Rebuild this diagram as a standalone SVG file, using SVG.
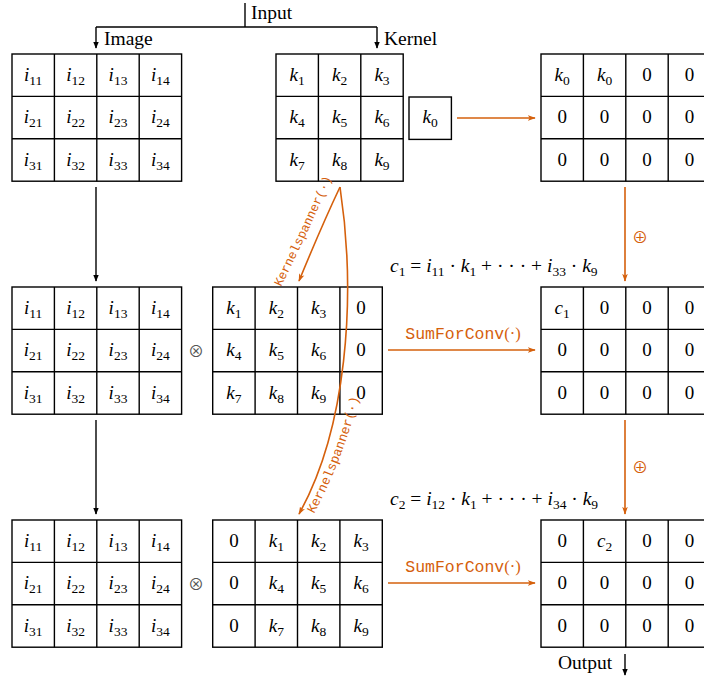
<svg xmlns="http://www.w3.org/2000/svg" width="704" height="677" viewBox="0 0 704 677">
<style>
.g{fill:#fff;stroke:#000;stroke-width:1.4}
.ln{stroke:#000;stroke-width:1.4;fill:none}
.t{font-family:"Liberation Serif","DejaVu Serif",serif;font-size:19px;text-anchor:middle;fill:#000}
.l{font-family:"Liberation Serif","DejaVu Serif",serif;font-size:19.5px;fill:#000}
.v{font-style:italic}
.s{font-size:13.5px;font-style:normal}
.bk{stroke:#000;stroke-width:1.4;fill:none}
.or{stroke:#d5600c;stroke-width:1.6;fill:none}
.ot{font-family:"Liberation Mono","DejaVu Sans Mono",monospace;fill:#d5600c}
.op{font-family:"Noto Sans CJK JP","DejaVu Sans",sans-serif;fill:#d5600c;font-size:16px;text-anchor:middle}
</style>
<defs>
<marker id="ab" viewBox="0 0 10 10" refX="9" refY="5" markerWidth="7" markerHeight="7" markerUnits="userSpaceOnUse" orient="auto"><path d="M0,1 L10,5 L0,9 Z" fill="#000"/></marker>
<marker id="ao" viewBox="0 0 10 10" refX="9" refY="5" markerWidth="8" markerHeight="8" markerUnits="userSpaceOnUse" orient="auto"><path d="M0,1.5 L10,5 L0,8.5 L2.5,5 Z" fill="#d5600c"/></marker>
<path id="kp1" d="M281,287 Q306,236 332,178"/>
<path id="kp2" d="M314,514 Q342,462 360,394"/>
</defs>

<g id="image1">
<rect class="g" x="12" y="54" width="169.6" height="127.2"/>
<path class="ln" d="M54.4,54V181.2M96.8,54V181.2M139.2,54V181.2M12,96.4H181.6M12,138.8H181.6"/>
<g class="t">
<text x="33.2" y="81"><tspan class="v">i</tspan><tspan class="s" dy="4">11</tspan></text>
<text x="75.6" y="81"><tspan class="v">i</tspan><tspan class="s" dy="4">12</tspan></text>
<text x="118" y="81"><tspan class="v">i</tspan><tspan class="s" dy="4">13</tspan></text>
<text x="160.4" y="81"><tspan class="v">i</tspan><tspan class="s" dy="4">14</tspan></text>
<text x="33.2" y="123.4"><tspan class="v">i</tspan><tspan class="s" dy="4">21</tspan></text>
<text x="75.6" y="123.4"><tspan class="v">i</tspan><tspan class="s" dy="4">22</tspan></text>
<text x="118" y="123.4"><tspan class="v">i</tspan><tspan class="s" dy="4">23</tspan></text>
<text x="160.4" y="123.4"><tspan class="v">i</tspan><tspan class="s" dy="4">24</tspan></text>
<text x="33.2" y="165.8"><tspan class="v">i</tspan><tspan class="s" dy="4">31</tspan></text>
<text x="75.6" y="165.8"><tspan class="v">i</tspan><tspan class="s" dy="4">32</tspan></text>
<text x="118" y="165.8"><tspan class="v">i</tspan><tspan class="s" dy="4">33</tspan></text>
<text x="160.4" y="165.8"><tspan class="v">i</tspan><tspan class="s" dy="4">34</tspan></text>
</g>
</g>

<g id="image2">
<rect class="g" x="12" y="287" width="169.6" height="127.2"/>
<path class="ln" d="M54.4,287V414.2M96.8,287V414.2M139.2,287V414.2M12,329.4H181.6M12,371.8H181.6"/>
<g class="t">
<text x="33.2" y="314"><tspan class="v">i</tspan><tspan class="s" dy="4">11</tspan></text>
<text x="75.6" y="314"><tspan class="v">i</tspan><tspan class="s" dy="4">12</tspan></text>
<text x="118" y="314"><tspan class="v">i</tspan><tspan class="s" dy="4">13</tspan></text>
<text x="160.4" y="314"><tspan class="v">i</tspan><tspan class="s" dy="4">14</tspan></text>
<text x="33.2" y="356.4"><tspan class="v">i</tspan><tspan class="s" dy="4">21</tspan></text>
<text x="75.6" y="356.4"><tspan class="v">i</tspan><tspan class="s" dy="4">22</tspan></text>
<text x="118" y="356.4"><tspan class="v">i</tspan><tspan class="s" dy="4">23</tspan></text>
<text x="160.4" y="356.4"><tspan class="v">i</tspan><tspan class="s" dy="4">24</tspan></text>
<text x="33.2" y="398.8"><tspan class="v">i</tspan><tspan class="s" dy="4">31</tspan></text>
<text x="75.6" y="398.8"><tspan class="v">i</tspan><tspan class="s" dy="4">32</tspan></text>
<text x="118" y="398.8"><tspan class="v">i</tspan><tspan class="s" dy="4">33</tspan></text>
<text x="160.4" y="398.8"><tspan class="v">i</tspan><tspan class="s" dy="4">34</tspan></text>
</g>
</g>

<g id="image3">
<rect class="g" x="12" y="520" width="169.6" height="127.2"/>
<path class="ln" d="M54.4,520V647.2M96.8,520V647.2M139.2,520V647.2M12,562.4H181.6M12,604.8H181.6"/>
<g class="t">
<text x="33.2" y="547"><tspan class="v">i</tspan><tspan class="s" dy="4">11</tspan></text>
<text x="75.6" y="547"><tspan class="v">i</tspan><tspan class="s" dy="4">12</tspan></text>
<text x="118" y="547"><tspan class="v">i</tspan><tspan class="s" dy="4">13</tspan></text>
<text x="160.4" y="547"><tspan class="v">i</tspan><tspan class="s" dy="4">14</tspan></text>
<text x="33.2" y="589.4"><tspan class="v">i</tspan><tspan class="s" dy="4">21</tspan></text>
<text x="75.6" y="589.4"><tspan class="v">i</tspan><tspan class="s" dy="4">22</tspan></text>
<text x="118" y="589.4"><tspan class="v">i</tspan><tspan class="s" dy="4">23</tspan></text>
<text x="160.4" y="589.4"><tspan class="v">i</tspan><tspan class="s" dy="4">24</tspan></text>
<text x="33.2" y="631.8"><tspan class="v">i</tspan><tspan class="s" dy="4">31</tspan></text>
<text x="75.6" y="631.8"><tspan class="v">i</tspan><tspan class="s" dy="4">32</tspan></text>
<text x="118" y="631.8"><tspan class="v">i</tspan><tspan class="s" dy="4">33</tspan></text>
<text x="160.4" y="631.8"><tspan class="v">i</tspan><tspan class="s" dy="4">34</tspan></text>
</g>
</g>

<g id="kernel">
<rect class="g" x="276" y="54" width="127.2" height="127.2"/>
<path class="ln" d="M318.4,54V181.2M360.8,54V181.2M276,96.4H403.2M276,138.8H403.2"/>
<g class="t">
<text x="297.2" y="81"><tspan class="v">k</tspan><tspan class="s" dy="4">1</tspan></text>
<text x="339.6" y="81"><tspan class="v">k</tspan><tspan class="s" dy="4">2</tspan></text>
<text x="382" y="81"><tspan class="v">k</tspan><tspan class="s" dy="4">3</tspan></text>
<text x="297.2" y="123.4"><tspan class="v">k</tspan><tspan class="s" dy="4">4</tspan></text>
<text x="339.6" y="123.4"><tspan class="v">k</tspan><tspan class="s" dy="4">5</tspan></text>
<text x="382" y="123.4"><tspan class="v">k</tspan><tspan class="s" dy="4">6</tspan></text>
<text x="297.2" y="165.8"><tspan class="v">k</tspan><tspan class="s" dy="4">7</tspan></text>
<text x="339.6" y="165.8"><tspan class="v">k</tspan><tspan class="s" dy="4">8</tspan></text>
<text x="382" y="165.8"><tspan class="v">k</tspan><tspan class="s" dy="4">9</tspan></text>
</g>
</g>

<g id="bias">
<rect class="g" x="409" y="97" width="42.4" height="42.4"/>
<text class="t" x="430.2" y="123.4"><tspan class="v">k</tspan><tspan class="s" dy="4">0</tspan></text>
</g>

<g id="kernel2">
<rect class="g" x="212.7" y="287" width="169.6" height="127.2"/>
<path class="ln" d="M255.1,287V414.2M297.5,287V414.2M339.9,287V414.2M212.7,329.4H382.3M212.7,371.8H382.3"/>
<g class="t">
<text x="233.9" y="314"><tspan class="v">k</tspan><tspan class="s" dy="4">1</tspan></text>
<text x="276.3" y="314"><tspan class="v">k</tspan><tspan class="s" dy="4">2</tspan></text>
<text x="318.7" y="314"><tspan class="v">k</tspan><tspan class="s" dy="4">3</tspan></text>
<text x="361.1" y="314">0</text>
<text x="233.9" y="356.4"><tspan class="v">k</tspan><tspan class="s" dy="4">4</tspan></text>
<text x="276.3" y="356.4"><tspan class="v">k</tspan><tspan class="s" dy="4">5</tspan></text>
<text x="318.7" y="356.4"><tspan class="v">k</tspan><tspan class="s" dy="4">6</tspan></text>
<text x="361.1" y="356.4">0</text>
<text x="233.9" y="398.8"><tspan class="v">k</tspan><tspan class="s" dy="4">7</tspan></text>
<text x="276.3" y="398.8"><tspan class="v">k</tspan><tspan class="s" dy="4">8</tspan></text>
<text x="318.7" y="398.8"><tspan class="v">k</tspan><tspan class="s" dy="4">9</tspan></text>
<text x="361.1" y="398.8">0</text>
</g>
</g>

<g id="kernel3">
<rect class="g" x="212.7" y="520" width="169.6" height="127.2"/>
<path class="ln" d="M255.1,520V647.2M297.5,520V647.2M339.9,520V647.2M212.7,562.4H382.3M212.7,604.8H382.3"/>
<g class="t">
<text x="233.9" y="547">0</text>
<text x="276.3" y="547"><tspan class="v">k</tspan><tspan class="s" dy="4">1</tspan></text>
<text x="318.7" y="547"><tspan class="v">k</tspan><tspan class="s" dy="4">2</tspan></text>
<text x="361.1" y="547"><tspan class="v">k</tspan><tspan class="s" dy="4">3</tspan></text>
<text x="233.9" y="589.4">0</text>
<text x="276.3" y="589.4"><tspan class="v">k</tspan><tspan class="s" dy="4">4</tspan></text>
<text x="318.7" y="589.4"><tspan class="v">k</tspan><tspan class="s" dy="4">5</tspan></text>
<text x="361.1" y="589.4"><tspan class="v">k</tspan><tspan class="s" dy="4">6</tspan></text>
<text x="233.9" y="631.8">0</text>
<text x="276.3" y="631.8"><tspan class="v">k</tspan><tspan class="s" dy="4">7</tspan></text>
<text x="318.7" y="631.8"><tspan class="v">k</tspan><tspan class="s" dy="4">8</tspan></text>
<text x="361.1" y="631.8"><tspan class="v">k</tspan><tspan class="s" dy="4">9</tspan></text>
</g>
</g>

<g id="output0">
<rect class="g" x="541" y="54" width="169.6" height="127.2"/>
<path class="ln" d="M583.4,54V181.2M625.8,54V181.2M668.2,54V181.2M541,96.4H710.6M541,138.8H710.6"/>
<g class="t">
<text x="562.2" y="81"><tspan class="v">k</tspan><tspan class="s" dy="4">0</tspan></text>
<text x="604.6" y="81"><tspan class="v">k</tspan><tspan class="s" dy="4">0</tspan></text>
<text x="647" y="81">0</text><text x="689.4" y="81">0</text>
<text x="562.2" y="123.4">0</text><text x="604.6" y="123.4">0</text><text x="647" y="123.4">0</text><text x="689.4" y="123.4">0</text>
<text x="562.2" y="165.8">0</text><text x="604.6" y="165.8">0</text><text x="647" y="165.8">0</text><text x="689.4" y="165.8">0</text>
</g>
</g>

<g id="output1">
<rect class="g" x="541" y="287" width="169.6" height="127.2"/>
<path class="ln" d="M583.4,287V414.2M625.8,287V414.2M668.2,287V414.2M541,329.4H710.6M541,371.8H710.6"/>
<g class="t">
<text x="562.2" y="314"><tspan class="v">c</tspan><tspan class="s" dy="4">1</tspan></text>
<text x="604.6" y="314">0</text><text x="647" y="314">0</text><text x="689.4" y="314">0</text>
<text x="562.2" y="356.4">0</text><text x="604.6" y="356.4">0</text><text x="647" y="356.4">0</text><text x="689.4" y="356.4">0</text>
<text x="562.2" y="398.8">0</text><text x="604.6" y="398.8">0</text><text x="647" y="398.8">0</text><text x="689.4" y="398.8">0</text>
</g>
</g>

<g id="output2">
<rect class="g" x="541" y="520" width="169.6" height="127.2"/>
<path class="ln" d="M583.4,520V647.2M625.8,520V647.2M668.2,520V647.2M541,562.4H710.6M541,604.8H710.6"/>
<g class="t">
<text x="562.2" y="547">0</text>
<text x="604.6" y="547"><tspan class="v">c</tspan><tspan class="s" dy="4">2</tspan></text>
<text x="647" y="547">0</text><text x="689.4" y="547">0</text>
<text x="562.2" y="589.4">0</text><text x="604.6" y="589.4">0</text><text x="647" y="589.4">0</text><text x="689.4" y="589.4">0</text>
<text x="562.2" y="631.8">0</text><text x="604.6" y="631.8">0</text><text x="647" y="631.8">0</text><text x="689.4" y="631.8">0</text>
</g>
</g>

<g id="connectors">
<path class="bk" d="M245,3 V27"/>
<path class="bk" d="M96,27 H377"/>
<path class="bk" d="M96,27 V48" marker-end="url(#ab)"/>
<path class="bk" d="M377,27 V48" marker-end="url(#ab)"/>
<path class="bk" d="M96,187 V281" marker-end="url(#ab)"/>
<path class="bk" d="M96,420 V514" marker-end="url(#ab)"/>
<path class="bk" d="M625,654 V675" marker-end="url(#ab)"/>
<path class="or" d="M457,118 H535" marker-end="url(#ao)"/>
<path class="or" d="M625,187 V281" marker-end="url(#ao)"/>
<path class="or" d="M625,420 V514" marker-end="url(#ao)"/>
<path class="or" d="M388,350 H535" marker-end="url(#ao)"/>
<path class="or" d="M388,583 H535" marker-end="url(#ao)"/>
<path class="or" d="M340,187 Q322,225 299,281" marker-end="url(#ao)"/>
<path class="or" d="M340,187 C357,300 346,430 299,514" marker-end="url(#ao)"/>
</g>

<g id="labels">
<text class="l" x="251" y="19">Input</text>
<text class="l" x="104" y="45">Image</text>
<text class="l" x="384" y="45">Kernel</text>
<text class="l" x="558" y="669">Output</text>
<text class="op" x="640" y="243">⊕</text>
<text class="op" x="640" y="473">⊕</text>
<text class="op" x="196" y="357" style="fill:#555">⊗</text>
<text class="op" x="196" y="590" style="fill:#555">⊗</text>
<text class="ot" x="463" y="339" text-anchor="middle" font-size="16.5">SumForConv<tspan font-family="Liberation Serif,serif">(·)</tspan></text>
<text class="ot" x="463" y="572" text-anchor="middle" font-size="16.5">SumForConv<tspan font-family="Liberation Serif,serif">(·)</tspan></text>
<text class="ot" font-size="12.5"><textPath href="#kp1">Kernelspanner(·)</textPath></text>
<text class="ot" font-size="13"><textPath href="#kp2">Kernelspanner(·)</textPath></text>
<text class="l" x="390" y="272" font-size="20"><tspan class="v">c</tspan><tspan class="s" dy="4">1</tspan><tspan dy="-4"> = </tspan><tspan class="v">i</tspan><tspan class="s" dy="4">11</tspan><tspan dy="-4"> · </tspan><tspan class="v">k</tspan><tspan class="s" dy="4">1</tspan><tspan dy="-4"> + · · · + </tspan><tspan class="v">i</tspan><tspan class="s" dy="4">33</tspan><tspan dy="-4"> · </tspan><tspan class="v">k</tspan><tspan class="s" dy="4">9</tspan></text>
<text class="l" x="390" y="505" font-size="20"><tspan class="v">c</tspan><tspan class="s" dy="4">2</tspan><tspan dy="-4"> = </tspan><tspan class="v">i</tspan><tspan class="s" dy="4">12</tspan><tspan dy="-4"> · </tspan><tspan class="v">k</tspan><tspan class="s" dy="4">1</tspan><tspan dy="-4"> + · · · + </tspan><tspan class="v">i</tspan><tspan class="s" dy="4">34</tspan><tspan dy="-4"> · </tspan><tspan class="v">k</tspan><tspan class="s" dy="4">9</tspan></text>
</g>
</svg>
